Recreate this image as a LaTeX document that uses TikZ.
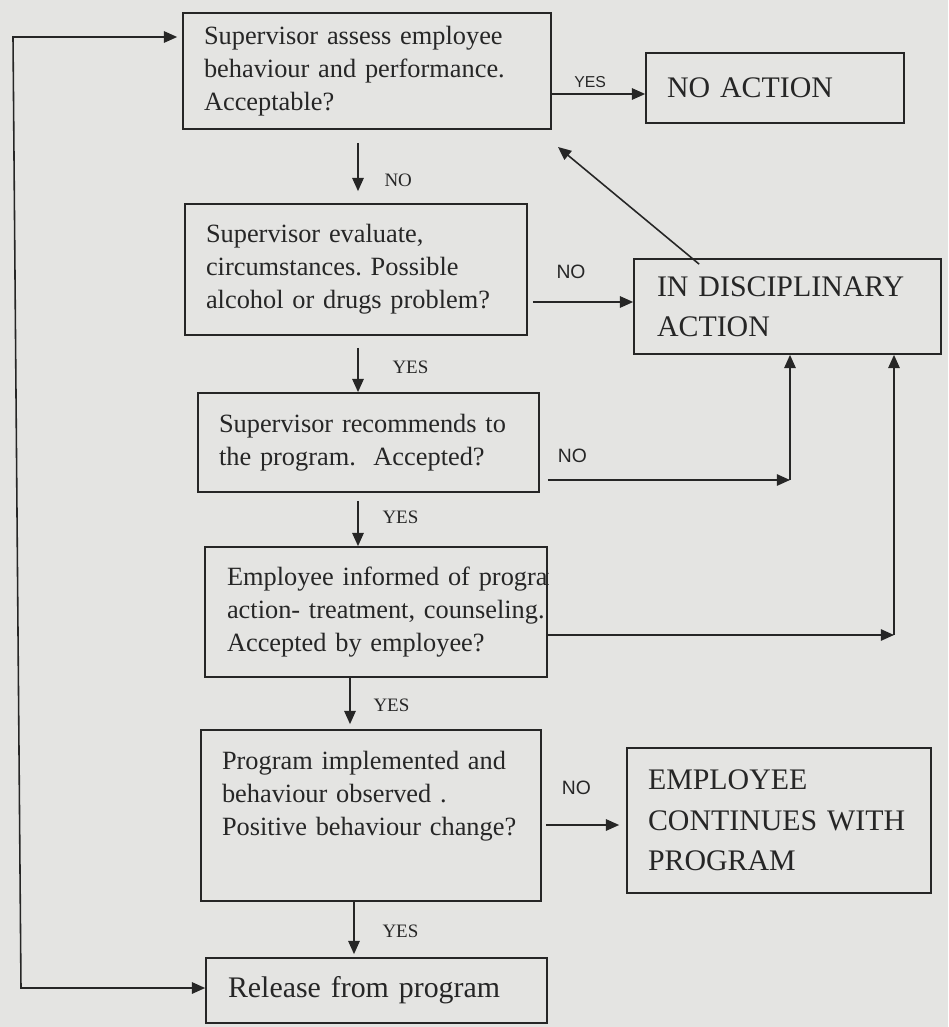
\documentclass[tikz,border=0pt]{standalone}
\usepackage{fontspec}
\setmainfont{Liberation Serif}
\newfontfamily\labelsans{Liberation Sans}
\usetikzlibrary{arrows.meta,positioning}
\definecolor{scanpaper}{RGB}{228,228,226}
\definecolor{scanink}{RGB}{38,38,38}
\frenchspacing

\begin{document}
\begin{tikzpicture}[x=0.02cm, y=-0.02cm,
		% Node styles
		stepbox/.style={draw=scanink, line width=1pt, text=scanink, align=left,
				inner xsep=0.42cm, inner ysep=2pt, font=\fontsize{15}{18.8}\selectfont},
		outcome/.style={stepbox, font=\fontsize{17}{23}\selectfont},
		connector/.style={->, >={Triangle[length=7.5pt, width=6.5pt]}, draw=scanink, line width=0.9pt},
		yeslabel/.style={text=scanink, font=\fontsize{10.8}{12}\selectfont, inner sep=1pt},
		nolabel/.style={text=scanink, font=\labelsans\fontsize{11}{12}\selectfont, inner sep=1pt},
	]

	% Scanned page
	\path[fill=scanpaper, use as bounding box] (0,0) rectangle (948,1027);

	% Main column of checks
	\node[stepbox, minimum width=7.36cm, minimum height=2.32cm, text width=6.52cm] (assess) at (367,71)
		{Supervisor assess employee\\ behaviour and performance.\\ Acceptable?};
	\node[stepbox, minimum width=6.84cm, minimum height=2.62cm, text width=6.0cm] (evaluate) at (356,269.5)
		{Supervisor evaluate,\\ circumstances. Possible\\ alcohol or drugs problem?};
	\node[stepbox, minimum width=6.82cm, minimum height=1.98cm, text width=5.98cm] (recommend) at (368.5,442.5)
		{Supervisor recommends to\\ the program.\ \ Accepted?};
	\begin{scope}
		\clip (204,546) rectangle (548,678);
		\node[stepbox, minimum width=6.84cm, minimum height=2.60cm, text width=5.96cm, inner xsep=0.44cm] (informed) at (376,612)
			{\mbox{Employee informed of program}\\ \mbox{action- treatment, counseling.}\\ Accepted by employee?};
	\end{scope}
	\node[stepbox, minimum width=6.80cm, minimum height=3.42cm, text width=5.96cm] (implemented) at (371,815.5)
		{Program implemented and\\ behaviour observed .\\ \mbox{Positive behaviour change?}\\[6pt]\mbox{}};
	\node[outcome, minimum width=6.82cm, minimum height=1.30cm, text width=5.94cm, inner xsep=0.44cm] (release) at (376.5,990.5)
		{Release from program};

	% Outcomes on the right
	\node[outcome, minimum width=5.16cm, minimum height=1.40cm, text width=4.32cm] (noaction) at (775,88) {NO ACTION};
	\node[outcome, minimum width=6.14cm, minimum height=1.90cm, text width=5.22cm, inner xsep=0.46cm] (disciplinary) at (787.5,306.5)
		{IN DISCIPLINARY\\ ACTION};
	\node[outcome, minimum width=6.08cm, minimum height=2.90cm, text width=5.24cm] (continues) at (779,820.5)
		{EMPLOYEE\\ \mbox{CONTINUES WITH}\\ PROGRAM};

	% Bends of the connectors
	\coordinate (joinA) at (790,480);
	\coordinate (joinB) at (894,635);
	\coordinate (loopTop) at (13,37);
	\coordinate (loopBottom) at (21,988);
	\coordinate (backTip) at (558,147);

	% Connections down the column
	\draw[connector, shorten <=0.26cm, shorten >=0.24cm] (assess.south -| 358,0) -- node[yeslabel, pos=.69, right=0.48cm] {NO} (evaluate.north -| 358,0);
	\draw[connector, shorten <=0.24cm] (evaluate.south -| 358,0) -- node[yeslabel, pos=.55, right=0.64cm] {YES} (recommend.north -| 358,0);
	\draw[connector, shorten <=0.16cm] (recommend.south -| 358,0) -- node[yeslabel, pos=.45, right=0.44cm] {YES} (informed.north -| 358,0);
	\draw[connector, shorten >=0.1cm] (informed.south -| 350,0) -- node[yeslabel, pos=.53, right=0.42cm] {YES} (implemented.north -| 350,0);
	\draw[connector, shorten >=0.06cm] (implemented.south -| 354,0) -- node[yeslabel, pos=.54, right=0.52cm] {YES} (release.north -| 354,0);

	% Connections to the right
	\draw[connector] (assess.east |- 0,94) -- node[nolabel, font=\labelsans\fontsize{9}{10}\selectfont, pos=.41, above=0.08cm] {YES} (noaction.west |- 0,94);
	\draw[connector, shorten <=0.1cm] (evaluate.east |- 0,302) -- node[nolabel, pos=.41, above=0.42cm] {NO} (disciplinary.west |- 0,302);
	\draw[connector, shorten <=0.16cm] (recommend.east |- joinA) -- node[nolabel, pos=.13, above=0.30cm] {NO} (joinA);
	\draw[connector] (joinA) -- (disciplinary.south -| joinA);
	\draw[connector] (informed.east |- joinB) -- (joinB);
	\draw[connector] (joinB) -- (disciplinary.south -| joinB);
	\draw[connector, shorten <=0.08cm, shorten >=0.14cm] (implemented.east |- 0,825) -- node[nolabel, pos=.41, above=0.56cm] {NO} (continues.west |- 0,825);
	\draw[connector] ([xshift=1.32cm, yshift=-0.12cm]disciplinary.north west) -- (backTip);

	% Loop on the left
	\draw[connector, <->, shorten <=0.1cm] (assess.west |- loopTop) -- (loopTop) -- (loopBottom) -- (release.west |- loopBottom);

\end{tikzpicture}
\end{document}
